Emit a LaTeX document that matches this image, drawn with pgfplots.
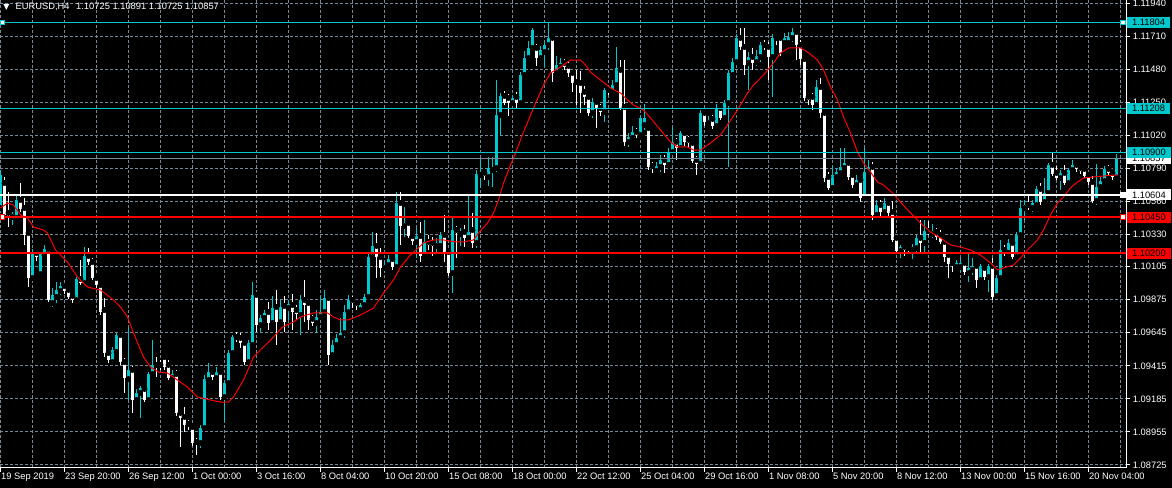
\documentclass[border=0pt]{standalone}
\usepackage{pgfplots}
\pgfplotsset{compat=1.18}
\usepackage{pgfplotstable}
\usepackage{fontspec}
\setmainfont{Liberation Sans}
\newfontfamily\dejavu{DejaVu Sans}
\definecolor{cy}{RGB}{0,200,205}
\definecolor{gridc}{RGB}{119,136,153}
\definecolor{bidc}{RGB}{119,136,153}
\newcommand\lbl{\fontsize{7}{8}\selectfont}

\pgfplotstableread{
i o h l c
0 1.10513 1.10778 1.10485 1.10743
1 1.10687 1.10729 1.10451 1.10465
2 1.10479 1.10625 1.10381 1.10444
3 1.10451 1.10485 1.10395 1.10472
4 1.10444 1.10604 1.10430 1.10569
5 1.10569 1.10687 1.10485 1.10506
6 1.10513 1.10583 1.10256 1.10325
7 1.10339 1.10360 1.09963 1.10026
8 1.10026 1.10228 1.10012 1.10200
9 1.10200 1.10221 1.10144 1.10172
10 1.10054 1.10207 1.10040 1.10193
11 1.10186 1.10256 1.10165 1.10228
12 1.10228 1.10242 1.09859 1.09873
13 1.09852 1.09957 1.09824 1.09908
14 1.09894 1.09998 1.09852 1.09943
15 1.09936 1.09998 1.09908 1.09970
16 1.09970 1.09984 1.09915 1.09936
17 1.09943 1.09957 1.09880 1.09894
18 1.09901 1.09922 1.09852 1.09873
19 1.09873 1.10033 1.09859 1.10019
20 1.10019 1.10151 1.09977 1.09991
21 1.09991 1.10242 1.09970 1.10179
22 1.10179 1.10235 1.10117 1.10137
23 1.10137 1.10165 1.10012 1.10026
24 1.10026 1.10047 1.09957 1.09977
25 1.09977 1.09998 1.09769 1.09789
26 1.09803 1.09887 1.09476 1.09504
27 1.09504 1.09525 1.09435 1.09455
28 1.09441 1.09546 1.09428 1.09525
29 1.09511 1.09643 1.09490 1.09629
30 1.09629 1.09643 1.09421 1.09441
31 1.09441 1.09469 1.09226 1.09330
32 1.09323 1.09678 1.09177 1.09386
33 1.09386 1.09414 1.09087 1.09177
34 1.09177 1.09254 1.09163 1.09226
35 1.09226 1.09274 1.09052 1.09261
36 1.09254 1.09267 1.09163 1.09177
37 1.09177 1.09372 1.09163 1.09358
38 1.09358 1.09595 1.09344 1.09421
39 1.09421 1.09476 1.09337 1.09407
40 1.09421 1.09455 1.09386 1.09407
41 1.09476 1.09490 1.09386 1.09407
42 1.09421 1.09455 1.09316 1.09330
43 1.09330 1.09386 1.09309 1.09358
44 1.09358 1.09386 1.09066 1.09087
45 1.09087 1.09107 1.08850 1.09052
46 1.09059 1.09128 1.08954 1.09003
47 1.09010 1.09038 1.08968 1.08996
48 1.08989 1.09003 1.08857 1.08878
49 1.08885 1.08913 1.08794 1.08878
50 1.08878 1.09003 1.08843 1.08982
51 1.08982 1.09351 1.08968 1.09323
52 1.09316 1.09435 1.09302 1.09372
53 1.09372 1.09386 1.09316 1.09337
54 1.09330 1.09407 1.09316 1.09372
55 1.09372 1.09386 1.09177 1.09198
56 1.09198 1.09316 1.09024 1.09295
57 1.09295 1.09525 1.09281 1.09504
58 1.09504 1.09629 1.09483 1.09615
59 1.09615 1.09650 1.09581 1.09602
60 1.09609 1.09643 1.09539 1.09574
61 1.09574 1.09595 1.09421 1.09441
62 1.09441 1.09595 1.09428 1.09574
63 1.09560 1.09998 1.09546 1.09908
64 1.09908 1.09922 1.09650 1.09699
65 1.09699 1.09769 1.09650 1.09748
66 1.09748 1.09803 1.09734 1.09783
67 1.09789 1.09859 1.09664 1.09713
68 1.09713 1.09901 1.09692 1.09817
69 1.09824 1.09943 1.09560 1.09720
70 1.09720 1.09873 1.09699 1.09824
71 1.09831 1.09901 1.09650 1.09720
72 1.09817 1.09873 1.09734 1.09845
73 1.09838 1.09915 1.09664 1.09789
74 1.09803 1.09838 1.09734 1.09776
75 1.09769 1.09908 1.09629 1.09873
76 1.09873 1.10012 1.09720 1.09838
77 1.09852 1.09873 1.09664 1.09734
78 1.09741 1.09769 1.09692 1.09713
79 1.09713 1.09803 1.09643 1.09755
80 1.09755 1.09901 1.09734 1.09789
81 1.09789 1.09943 1.09769 1.09887
82 1.09887 1.09908 1.09421 1.09490
83 1.09490 1.09595 1.09469 1.09560
84 1.09560 1.09636 1.09539 1.09609
85 1.09609 1.09748 1.09595 1.09643
86 1.09643 1.09838 1.09609 1.09789
87 1.09789 1.09908 1.09776 1.09873
88 1.09873 1.09901 1.09817 1.09852
89 1.09852 1.09873 1.09803 1.09831
90 1.09803 1.09852 1.09789 1.09838
91 1.09838 1.09915 1.09824 1.09894
92 1.09894 1.10200 1.09880 1.10172
93 1.10172 1.10346 1.10151 1.10249
94 1.10249 1.10339 1.10026 1.10172
95 1.10172 1.10235 1.10033 1.10096
96 1.10096 1.10137 1.10068 1.10117
97 1.10117 1.10186 1.10096 1.10158
98 1.10158 1.10179 1.10082 1.10103
99 1.10103 1.10625 1.10082 1.10548
100 1.10548 1.10625 1.10256 1.10388
101 1.10388 1.10520 1.10311 1.10409
102 1.10409 1.10430 1.10305 1.10318
103 1.10318 1.10339 1.10256 1.10284
104 1.10277 1.10374 1.10165 1.10318
105 1.10318 1.10416 1.10137 1.10179
106 1.10179 1.10430 1.10165 1.10277
107 1.10277 1.10325 1.10221 1.10256
108 1.10270 1.10311 1.10179 1.10249
109 1.10249 1.10305 1.10207 1.10270
110 1.10249 1.10346 1.10228 1.10325
111 1.10325 1.10465 1.10137 1.10207
112 1.10207 1.10221 1.10040 1.10061
113 1.10061 1.10451 1.09922 1.10360
114 1.10360 1.10388 1.10165 1.10339
115 1.10332 1.10374 1.10249 1.10346
116 1.10346 1.10395 1.10242 1.10305
117 1.10305 1.10604 1.10284 1.10346
118 1.10360 1.10479 1.10235 1.10270
119 1.10270 1.10778 1.10235 1.10750
120 1.10743 1.10861 1.10653 1.10757
121 1.10757 1.10778 1.10708 1.10736
122 1.10729 1.10868 1.10666 1.10792
123 1.10778 1.10868 1.10659 1.10792
124 1.10792 1.11404 1.10764 1.11161
125 1.11161 1.11314 1.11021 1.11293
126 1.11293 1.11328 1.11230 1.11244
127 1.11279 1.11307 1.11154 1.11244
128 1.11244 1.11300 1.11223 1.11279
129 1.11286 1.11321 1.11209 1.11244
130 1.11244 1.11460 1.11230 1.11439
131 1.11439 1.11606 1.11418 1.11557
132 1.11557 1.11676 1.11543 1.11627
133 1.11627 1.11766 1.11613 1.11752
134 1.11627 1.11655 1.11502 1.11557
135 1.11557 1.11641 1.11543 1.11613
136 1.11599 1.11676 1.11495 1.11648
137 1.11648 1.11801 1.11613 1.11697
138 1.11697 1.11717 1.11390 1.11453
139 1.11453 1.11571 1.11439 1.11509
140 1.11495 1.11557 1.11474 1.11523
141 1.11523 1.11550 1.11474 1.11495
142 1.11502 1.11536 1.11425 1.11453
143 1.11453 1.11474 1.11321 1.11383
144 1.11390 1.11474 1.11230 1.11376
145 1.11383 1.11467 1.11175 1.11314
146 1.11321 1.11362 1.11230 1.11286
147 1.11286 1.11300 1.11154 1.11175
148 1.11175 1.11279 1.11140 1.11251
149 1.11251 1.11265 1.11070 1.11209
150 1.11209 1.11237 1.11154 1.11181
151 1.11181 1.11349 1.11112 1.11335
152 1.11335 1.11362 1.11300 1.11321
153 1.11321 1.11404 1.11307 1.11369
154 1.11369 1.11634 1.11355 1.11488
155 1.11474 1.11543 1.11195 1.11209
156 1.11216 1.11543 1.10945 1.10973
157 1.10973 1.11035 1.10938 1.11007
158 1.11001 1.11084 1.10987 1.11042
159 1.11042 1.11070 1.11001 1.11021
160 1.11021 1.11161 1.11001 1.11140
161 1.11091 1.11237 1.11056 1.11140
162 1.11070 1.11091 1.10778 1.10799
163 1.10806 1.10833 1.10757 1.10792
164 1.10771 1.10833 1.10757 1.10806
165 1.10799 1.10882 1.10764 1.10847
166 1.10847 1.10882 1.10757 1.10813
167 1.10813 1.10931 1.10792 1.10903
168 1.10903 1.11077 1.10889 1.10973
169 1.10973 1.11001 1.10847 1.10931
170 1.10931 1.11049 1.10917 1.11035
171 1.11035 1.11049 1.10945 1.10973
172 1.10987 1.11014 1.10931 1.10966
173 1.10966 1.10973 1.10827 1.10840
174 1.10847 1.10875 1.10743 1.10820
175 1.10820 1.11195 1.10806 1.11175
176 1.11175 1.11188 1.11084 1.11112
177 1.11105 1.11154 1.11084 1.11126
178 1.11133 1.11161 1.11063 1.11084
179 1.11084 1.11237 1.11070 1.11209
180 1.11209 1.11230 1.11126 1.11140
181 1.11140 1.11265 1.11126 1.11244
182 1.11244 1.11474 1.10799 1.11453
183 1.11439 1.11557 1.11418 1.11529
184 1.11529 1.11724 1.11516 1.11697
185 1.11697 1.11766 1.11613 1.11634
186 1.11634 1.11766 1.11439 1.11509
187 1.11523 1.11599 1.11335 1.11564
188 1.11564 1.11627 1.11474 1.11523
189 1.11529 1.11613 1.11502 1.11571
190 1.11564 1.11669 1.11529 1.11648
191 1.11648 1.11683 1.11613 1.11634
192 1.11634 1.11669 1.11404 1.11564
193 1.11564 1.11724 1.11286 1.11697
194 1.11697 1.11717 1.11648 1.11683
195 1.11697 1.11717 1.11571 1.11592
196 1.11662 1.11731 1.11641 1.11697
197 1.11662 1.11738 1.11648 1.11703
198 1.11697 1.11766 1.11669 1.11738
199 1.11738 1.11752 1.11543 1.11648
200 1.11648 1.11683 1.11509 1.11550
201 1.11550 1.11564 1.11258 1.11279
202 1.11286 1.11307 1.11230 1.11265
203 1.11286 1.11314 1.11195 1.11230
204 1.11230 1.11404 1.11209 1.11355
205 1.11355 1.11418 1.11140 1.11175
206 1.11175 1.11195 1.10694 1.10722
207 1.10729 1.10764 1.10639 1.10653
208 1.10653 1.10813 1.10639 1.10743
209 1.10729 1.10792 1.10708 1.10764
210 1.10757 1.10931 1.10736 1.10799
211 1.10792 1.10931 1.10778 1.10827
212 1.10827 1.10847 1.10708 1.10729
213 1.10743 1.10764 1.10653 1.10673
214 1.10673 1.10743 1.10653 1.10708
215 1.10708 1.10722 1.10555 1.10583
216 1.10583 1.10931 1.10569 1.10764
217 1.10764 1.10847 1.10743 1.10799
218 1.10799 1.10833 1.10430 1.10465
219 1.10465 1.10569 1.10444 1.10534
220 1.10534 1.10569 1.10458 1.10485
221 1.10485 1.10583 1.10472 1.10548
222 1.10548 1.10569 1.10458 1.10479
223 1.10485 1.10562 1.10277 1.10291
224 1.10305 1.10318 1.10193 1.10214
225 1.10214 1.10256 1.10165 1.10242
226 1.10242 1.10256 1.10179 1.10221
227 1.10235 1.10249 1.10200 1.10221
228 1.10221 1.10263 1.10158 1.10242
229 1.10235 1.10325 1.10207 1.10305
230 1.10305 1.10430 1.10207 1.10270
231 1.10270 1.10430 1.10207 1.10353
232 1.10353 1.10423 1.10325 1.10339
233 1.10332 1.10402 1.10305 1.10353
234 1.10346 1.10374 1.10291 1.10311
235 1.10325 1.10360 1.10263 1.10277
236 1.10277 1.10291 1.10137 1.10172
237 1.10186 1.10207 1.10026 1.10124
238 1.10131 1.10151 1.10068 1.10117
239 1.10103 1.10151 1.10082 1.10131
240 1.10103 1.10165 1.10068 1.10131
241 1.10131 1.10151 1.10047 1.10068
242 1.10061 1.10207 1.09998 1.10096
243 1.10082 1.10165 1.10047 1.10110
244 1.10110 1.10124 1.09957 1.10012
245 1.10012 1.10124 1.09991 1.10110
246 1.10096 1.10117 1.10012 1.10033
247 1.10033 1.10124 1.09929 1.10110
248 1.10110 1.10165 1.09873 1.09894
249 1.09901 1.10047 1.09887 1.10026
250 1.10026 1.10291 1.10012 1.10221
251 1.10221 1.10256 1.10179 1.10200
252 1.10200 1.10298 1.10179 1.10270
253 1.10270 1.10291 1.10158 1.10172
254 1.10172 1.10346 1.10158 1.10325
255 1.10325 1.10569 1.10311 1.10513
256 1.10513 1.10569 1.10430 1.10534
257 1.10534 1.10604 1.10499 1.10520
258 1.10513 1.10569 1.10485 1.10548
259 1.10534 1.10666 1.10520 1.10646
260 1.10646 1.10687 1.10534 1.10555
261 1.10555 1.10722 1.10541 1.10618
262 1.10618 1.10827 1.10604 1.10813
263 1.10813 1.10903 1.10736 1.10750
264 1.10757 1.10806 1.10708 1.10722
265 1.10722 1.10778 1.10639 1.10757
266 1.10757 1.10813 1.10673 1.10687
267 1.10687 1.10792 1.10666 1.10778
268 1.10778 1.10847 1.10764 1.10813
269 1.10813 1.10833 1.10764 1.10785
270 1.10792 1.10813 1.10750 1.10771
271 1.10785 1.10806 1.10722 1.10736
272 1.10743 1.10764 1.10673 1.10694
273 1.10694 1.10736 1.10548 1.10562
274 1.10562 1.10820 1.10534 1.10659
275 1.10659 1.10736 1.10639 1.10701
276 1.10701 1.10806 1.10687 1.10785
277 1.10785 1.10813 1.10736 1.10757
278 1.10757 1.10778 1.10708 1.10729
279 1.10725 1.10891 1.10725 1.10857
}\candles

\pgfplotstableread{
x y
0 1.10513
1.75 1.10548
3.25 1.10534
5 1.10465
6.75 1.10444
8.25 1.10381
10.75 1.10360
11.75 1.10339
13.75 1.10221
15 1.10186
16.75 1.10137
19.25 1.10033
21.75 1.09963
25 1.09943
28.25 1.09873
30 1.09824
31.75 1.09755
33.25 1.09643
35.75 1.09476
37.5 1.09407
39.5 1.09372
41.75 1.09365
44.25 1.09316
46.75 1.09267
49.25 1.09198
52.5 1.09177
55 1.09163
57 1.09163
58.25 1.09198
60.75 1.09316
63.25 1.09476
65.75 1.09546
68.25 1.09615
70.5 1.09685
73.25 1.09720
75 1.09755
78.25 1.09783
81.75 1.09783
83.25 1.09755
85 1.09734
87 1.09734
90 1.09769
93.25 1.09817
95.75 1.09922
98.25 1.10012
100 1.10103
102.5 1.10186
105.75 1.10270
108.25 1.10291
110.75 1.10291
113.75 1.10277
115.75 1.10277
118.25 1.10291
119.5 1.10339
121.75 1.10409
123.25 1.10479
124.5 1.10569
125.75 1.10687
127.5 1.10813
128.25 1.10861
130.75 1.11042
133.25 1.11209
135.75 1.11369
137.5 1.11453
140 1.11495
142.5 1.11543
145 1.11543
146.25 1.11509
147.5 1.11460
150 1.11404
152.5 1.11349
155 1.11314
156.75 1.11265
158.25 1.11230
160.75 1.11195
162.5 1.11140
165 1.11056
167.5 1.10973
169.25 1.10938
171.75 1.10938
173.25 1.10917
175 1.10917
177.5 1.10966
180 1.11021
184.25 1.11195
186.75 1.11314
188.25 1.11369
190.75 1.11439
193.25 1.11523
195 1.11592
197 1.11627
200 1.11627
201.75 1.11599
204.25 1.11543
205.75 1.11474
207.5 1.11355
209.25 1.11265
210.75 1.11147
212.5 1.11035
214.25 1.10903
215.75 1.10827
217.5 1.10764
219.25 1.10694
220.75 1.10673
223 1.10618
225 1.10555
227.5 1.10479
230 1.10409
232.5 1.10346
235 1.10305
237.5 1.10256
240 1.10242
242.5 1.10221
245 1.10186
247.5 1.10131
249.25 1.10082
250.75 1.10096
253.25 1.10117
254.5 1.10151
256.75 1.10221
259.25 1.10291
260.75 1.10360
262.5 1.10465
264.25 1.10548
265.75 1.10590
267.5 1.10653
269.25 1.10694
270.75 1.10722
273.25 1.10729
275.75 1.10736
278.25 1.10743
279.25 1.10743
}\ma

\pgfplotsset{
  bull/.style={restrict expr to domain={\thisrow{c}-\thisrow{o}}{-0.000001:1}},
  bear/.style={restrict expr to domain={\thisrow{c}-\thisrow{o}}{-1:-0.000001}},
  wick/.style={only marks, mark=none, forget plot,
    error bars/y dir=both, error bars/y explicit, error bars/error mark=none,
    error bars/error bar style={draw=#1, solid, line width=0.75pt}},
  body/.style={only marks, mark=none, forget plot,
    error bars/y dir=both, error bars/y explicit, error bars/error mark=none,
    error bars/error bar style={draw=#1, solid, line width=2.25pt, line cap=butt}},
}
\tikzset{lblbox/.style={anchor=west, text=black, font=\lbl, inner xsep=3.75pt, inner ysep=0pt, minimum height=8.25pt, xshift=0.6pt}}

\begin{document}
\begin{tikzpicture}
\begin{axis}[
  set layers,
  at={(0,0)}, anchor=south west,
  width=844.5pt, height=351pt, scale only axis,
  xmin=-0.125, xmax=281.375, ymin=1.08704, ymax=1.11961,
  clip mode=individual,
  axis x line*=bottom, axis y line*=right,
  axis line style={white, line width=0.75pt, -},
  xtick={0,16,...,272},
  xticklabels={19 Sep 2019, 23 Sep 20:00, 26 Sep 12:00, 1 Oct 00:00, 3 Oct 16:00, 8 Oct 04:00, 10 Oct 20:00, 15 Oct 08:00, 18 Oct 00:00, 22 Oct 12:00, 25 Oct 04:00, 29 Oct 16:00, 1 Nov 08:00, 5 Nov 20:00, 8 Nov 12:00, 13 Nov 00:00, 15 Nov 16:00, 20 Nov 04:00},
  minor xtick={8,24,...,280},
  ytick={1.08725,1.08955,1.09185,1.09415,1.09645,1.09875,1.10105,1.10330,1.10560,1.10790,1.11020,1.11250,1.11480,1.11710,1.11940},
  yticklabels={1.08725,1.08955,1.09185,1.09415,1.09645,1.09875,1.10105,1.10330,1.10560,1.10790,1.11020,1.11250,1.11480,1.11710,1.11940},
  scaled y ticks=false,
  xmajorgrids, xminorgrids, ymajorgrids,
  grid style={gridc, line width=0.75pt, dash pattern=on 2.25pt off 1.5pt},
  minor grid style={gridc, line width=0.75pt, dash pattern=on 2.25pt off 1.5pt},
  tick align=outside, major tick length=3pt, minor tick length=0pt,
  tick style={white, line width=0.75pt},
  xticklabel style={text=white, font=\lbl, anchor=north west, inner sep=0pt, xshift=0.3pt, yshift=-0.5pt},
  yticklabel style={text=white, font=\lbl, anchor=west, inner sep=0pt, xshift=2pt},
]
\begin{pgfonlayer}{axis background}
\fill[black] ([yshift=-16pt]rel axis cs:0,0) rectangle ([xshift=36pt, yshift=1pt]rel axis cs:1,1);
\end{pgfonlayer}

\addplot[bull, wick=cy] table[x=i, y=o, y error plus expr=\thisrow{h}-\thisrow{o}, y error minus expr=\thisrow{o}-\thisrow{l}] {\candles};
\addplot[bear, wick=white] table[x=i, y=o, y error plus expr=\thisrow{h}-\thisrow{o}, y error minus expr=\thisrow{o}-\thisrow{l}] {\candles};
\addplot[bull, body=cy] table[x=i, y=o, y error plus expr=\thisrow{c}-\thisrow{o}, y error minus expr=0] {\candles};
\addplot[bear, body=white] table[x=i, y=o, y error plus expr=0, y error minus expr=\thisrow{o}-\thisrow{c}] {\candles};

\addplot[red, line width=0.75pt, mark=none] table[x=x, y=y] {\ma};

\addplot[cy, line width=0.75pt, mark=none] coordinates {(-0.125,1.11804) (281.375,1.11804)};
\addplot[cy, line width=0.75pt, mark=none] coordinates {(-0.125,1.11208) (281.375,1.11208)};
\addplot[cy, line width=0.75pt, mark=none] coordinates {(-0.125,1.10900) (281.375,1.10900)};
\addplot[bidc, line width=0.75pt, mark=none] coordinates {(-0.125,1.10857) (281.375,1.10857)};
\addplot[white, line width=1pt, mark=none] coordinates {(-0.125,1.10604) (281.375,1.10604)};
\addplot[red, line width=1pt, mark=none] coordinates {(-0.125,1.10450) (281.375,1.10450)};
\addplot[red, line width=1pt, mark=none] coordinates {(-0.125,1.10200) (281.375,1.10200)};
\addplot[only marks, mark=square*, mark size=1.6pt, mark options={draw=cy, fill=white, line width=0.75pt}] coordinates {(0.45,1.11804) (280.6,1.11804)};
\addplot[only marks, mark=square*, mark size=1.6pt, mark options={draw=red, fill=white, line width=0.75pt}] coordinates {(0.45,1.10450) (280.6,1.10450)};
\addplot[only marks, mark=square*, mark size=1.9pt, mark options={draw=white, fill=white}] coordinates {(280.6,1.10604)};

\node[lblbox, fill=white] at (axis cs:281.375,1.10857) {1.10857};
\node[lblbox, fill=cy] at (axis cs:281.375,1.10900) {1.10900};
\node[lblbox, fill=cy] at (axis cs:281.375,1.11804) {1.11804};
\node[lblbox, fill=cy] at (axis cs:281.375,1.11208) {1.11208};
\node[lblbox, fill=white] at (axis cs:281.375,1.10604) {1.10604};
\node[lblbox, fill=red] at (axis cs:281.375,1.10450) {1.10450};
\node[lblbox, fill=red] at (axis cs:281.375,1.10200) {1.10200};

\node[anchor=west, text=white, font=\lbl, inner sep=0pt, xshift=2.3pt, yshift=-5.25pt] at (rel axis cs:0,1) {{\dejavu\fontsize{6}{6}\selectfont ▼}\hspace{4.6pt}EURUSD,H4\hspace{5pt}1.10725 1.10891 1.10725 1.10857};
\end{axis}
\pgfresetboundingbox
\path[use as bounding box] (0,-15pt) rectangle (879pt,351pt);
\end{tikzpicture}
\end{document}
